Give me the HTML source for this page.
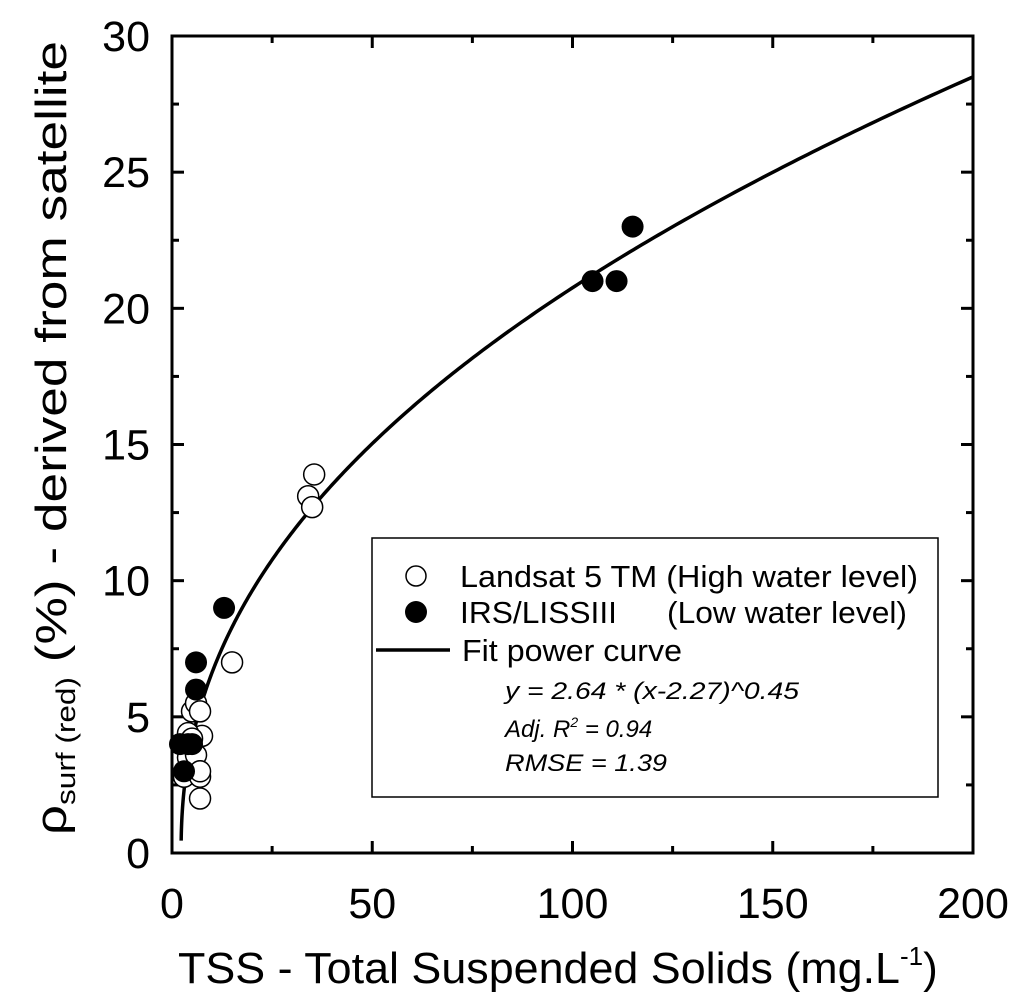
<!DOCTYPE html>
<html><head><meta charset="utf-8"><style>body{margin:0;background:#fff}svg{display:block;font-family:"Liberation Sans",sans-serif}</style></head>
<body>
<svg id="c" width="1024" height="999" viewBox="0 0 1024 999"></svg>
<script>
const xTicks=[0,50,100,150,200];
const yTicks=[0,5,10,15,20,25,30];
const landsatX=[5,6,7,7.5,4,5,4,6,3,7,7,7,15,34,35,35.5];
const landsatY=[5.2,5.5,5.2,4.3,4.4,4.2,3.5,3.6,2.8,2.8,3.0,2.0,7.0,13.1,12.7,13.9];
const irsX=[2,4,5,3,6,6,13,105,111,115];
const irsY=[4,4,4,3,6,7,9,21,21,23];
const fitA=2.64, fitB=2.27, fitC=0.45;
const NS="http://www.w3.org/2000/svg";
const svg=document.getElementById('c');
const X0=172,X1=973,Y0=853,Y1=36;
const sx=v=>X0+(v-0)/200*(X1-X0);
const sy=v=>Y0-(v-0)/30*(Y0-Y1);
function mk(t,a,p){const e=document.createElementNS(NS,t);for(const k in a)e.setAttribute(k,a[k]);(p||svg).appendChild(e);return e;}
const fr=mk('rect',{x:X0,y:Y1,width:X1-X0,height:Y0-Y1,fill:'none',stroke:'#000','stroke-width':3});


xTicks.forEach((t,i)=>{
  const x=sx(t);
  const l=mk('line',{x1:x,y1:Y0,x2:x,y2:Y0-12,stroke:'#000','stroke-width':3});
  
  
  const l2=mk('line',{x1:x,y1:Y1,x2:x,y2:Y1+12,stroke:'#000','stroke-width':3});
  
  
  if(i<xTicks.length-1){const m=sx(t+25);
   const q=mk('line',{x1:m,y1:Y0,x2:m,y2:Y0-7,stroke:'#000','stroke-width':3});
   
   
   const q2=mk('line',{x1:m,y1:Y1,x2:m,y2:Y1+7,stroke:'#000','stroke-width':3});
   
   }
  const tx=mk('text',{x:x,y:918,'font-size':43,'text-anchor':'middle'});tx.textContent=t;
  
  
});
yTicks.forEach((t,i)=>{
  const y=sy(t);
  const l=mk('line',{x1:X0,y1:y,x2:X0+12,y2:y,stroke:'#000','stroke-width':3});
  
  
  const l2=mk('line',{x1:X1,y1:y,x2:X1-12,y2:y,stroke:'#000','stroke-width':3});
  
  
  if(i<yTicks.length-1){const m=sy(t+2.5);
   const q=mk('line',{x1:X0,y1:m,x2:X0+7,y2:m,stroke:'#000','stroke-width':3});
   
   
   const q2=mk('line',{x1:X1,y1:m,x2:X1-7,y2:m,stroke:'#000','stroke-width':3});
   
   }
  const tx=mk('text',{x:150,y:y+15,'font-size':43,'text-anchor':'end'});tx.textContent=t;
  
  
});
let d='';
for(let i=0;i<=400;i++){const t=i/400;const x=fitB+0.02+Math.pow(t,3)*(200-fitB-0.02);const y=fitA*Math.pow(x-fitB,fitC);d+=(i?'L':'M')+sx(x).toFixed(2)+','+sy(y).toFixed(2);}
const fc=mk('path',{d:d,fill:'none',stroke:'#000','stroke-width':3.5});


landsatX.forEach((v,i)=>{const c=mk('circle',{cx:sx(v),cy:sy(landsatY[i]),r:10.5,fill:'#fff',stroke:'#000','stroke-width':1.5});
 
 });
irsX.forEach((v,i)=>{const c=mk('circle',{cx:sx(v),cy:sy(irsY[i]),r:11,fill:'#000'});
 
 });
</script>
<svg style="position:absolute;left:0;top:0" width="1024" height="999">
 <g font-family="Liberation Sans, sans-serif">
  <rect x="372" y="538" width="566" height="259" fill="#fff" stroke="#000" stroke-width="1.5"/>
  <circle cx="416" cy="576" r="10" fill="#fff" stroke="#000" stroke-width="1.5"/>
  <text x="460" y="587" font-size="31" textLength="458" lengthAdjust="spacingAndGlyphs">Landsat 5 TM (High water level)</text>
  <circle cx="416" cy="612" r="11" fill="#000"/>
  <text x="460" y="623" font-size="31"><tspan textLength="157" lengthAdjust="spacingAndGlyphs">IRS/LISSIII</tspan><tspan x="667" textLength="240" lengthAdjust="spacingAndGlyphs">(Low water level)</tspan></text>
  <line x1="376" y1="650" x2="450" y2="650" stroke="#000" stroke-width="3.5"/>
  <text x="462" y="661" font-size="31" textLength="220" lengthAdjust="spacingAndGlyphs">Fit power curve</text>
  <text x="505" y="699" font-size="24" font-style="italic" textLength="294" lengthAdjust="spacingAndGlyphs">y = 2.64 * (x-2.27)^0.45</text>
  <text x="505" y="737" font-size="24" font-style="italic">Adj. R<tspan font-size="14" dy="-10">2</tspan><tspan dy="10"> = 0.94</tspan></text>
  <text x="505" y="771" font-size="24" font-style="italic" textLength="162" lengthAdjust="spacingAndGlyphs">RMSE = 1.39</text>
 </g>
 <text x="178" y="983" font-size="44" font-family="Liberation Sans, sans-serif"><tspan textLength="722" lengthAdjust="spacingAndGlyphs">TSS - Total Suspended Solids (mg.L</tspan><tspan font-size="26" dy="-18">-1</tspan><tspan dy="18">)</tspan></text>
 <text transform="translate(66,835) rotate(-90)" font-size="44" font-family="Liberation Sans, sans-serif"><tspan textLength="30" lengthAdjust="spacingAndGlyphs">ρ</tspan><tspan font-size="27" dy="9" textLength="128" lengthAdjust="spacingAndGlyphs">surf (red)</tspan><tspan dy="-9" textLength="636" lengthAdjust="spacingAndGlyphs"> (%) - derived from satellite</tspan></text>
</svg>
</body></html>
